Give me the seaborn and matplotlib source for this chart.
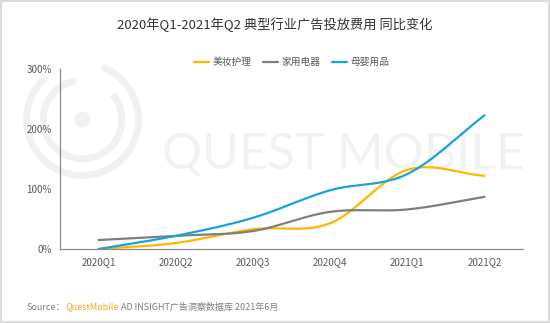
import numpy as np
import pandas as pd
import seaborn as sns
import matplotlib.pyplot as plt
from matplotlib.patches import Rectangle, Circle, Arc

quarters = ["2020Q1", "2020Q2", "2020Q3", "2020Q4", "2021Q1", "2021Q2"]
meizhuang = [0, 10, 33, 43, 132, 122]   # 美妆护理
jiadian = [15, 22, 30, 62, 66, 87]      # 家用电器
muying = [0, 22, 52, 98, 125, 223]      # 母婴用品
series_names = ["美妆护理", "家用电器", "母婴用品"]
colors = ["#FFB800", "#7F7F7F", "#18A3DC"]

sns.set_theme(style="white")
plt.rcParams['font.family'] = ['Noto Sans CJK SC', 'DejaVu Sans']


def smooth(y, n=40):
    # catmull-rom curve through the points, only for drawing
    y = np.asarray(y, dtype=float)
    p = np.concatenate([[2 * y[0] - y[1]], y, [2 * y[-1] - y[-2]]])
    xs, ys = [], []
    for i in range(len(y) - 1):
        t = np.linspace(0, 1, n, endpoint=False)
        p0, p1, p2, p3 = p[i], p[i + 1], p[i + 2], p[i + 3]
        v = 0.5 * ((2 * p1) + (-p0 + p2) * t + (2 * p0 - 5 * p1 + 4 * p2 - p3) * t ** 2
                   + (-p0 + 3 * p1 - 3 * p2 + p3) * t ** 3)
        xs.extend(i + t)
        ys.extend(v)
    xs.append(len(y) - 1)
    ys.append(y[-1])
    return np.array(xs), np.array(ys)


rows = []
for name, vals in zip(series_names, [meizhuang, jiadian, muying]):
    sx, sy = smooth(vals)
    rows.append(pd.DataFrame({"x": sx, "y": sy, "series": name}))
df = pd.concat(rows, ignore_index=True)

fig = plt.figure(figsize=(5.5, 3.23), dpi=100)
ax = fig.add_axes([0.109, 0.229, 0.842, 0.557])

# watermark
fig.text(0.295, 0.52, "QUEST MOBILE", fontsize=36, color="#f2f2f2",
         family="Lato", va="center", ha="left", zorder=0)
wm = fig.add_axes([0.04, 0.44, 0.22, 0.38], zorder=0)
wm.set_xlim(-1, 1)
wm.set_ylim(-1, 1)
wm.set_aspect("equal")
wm.axis("off")
wm.add_patch(Circle((0, 0), 0.12, color="#f1f1f1"))
wm.add_patch(Arc((0, 0), 1.3, 1.3, theta1=100, theta2=400, lw=5, color="#f1f1f1"))
wm.add_patch(Arc((0, 0), 1.85, 1.85, theta1=130, theta2=430, lw=5, color="#f1f1f1"))
ax.set_zorder(1)
ax.patch.set_alpha(0)

sns.lineplot(data=df, x="x", y="y", hue="series", palette=colors, ax=ax,
             linewidth=1.6, estimator=None, sort=False)

ax.set_xlim(-0.5, 5.5)
ax.set_ylim(0, 300)
ax.set_xticks(range(len(quarters)))
ax.set_xticklabels(quarters)
ax.set_yticks([0, 100, 200, 300])
ax.set_yticklabels(["0%", "100%", "200%", "300%"])
ax.tick_params(axis="both", labelsize=7, colors="#595959", length=0, pad=6)
ax.set_xlabel("")
ax.set_ylabel("")
for s in ["top", "right"]:
    ax.spines[s].set_visible(False)
for s in ["left", "bottom"]:
    ax.spines[s].set_color("#8c8c8c")
    ax.spines[s].set_linewidth(0.9)

leg = ax.legend(loc="center", bbox_to_anchor=(0.5, 1.04), ncol=3, frameon=False,
                fontsize=7, handlelength=1.6, handletextpad=0.3, columnspacing=1.2,
                borderpad=0)
for t in leg.get_texts():
    t.set_color("#595959")

fig.text(0.5, 0.925, "2020年Q1-2021年Q2 典型行业广告投放费用 同比变化", ha="center", va="center",
         fontsize=9.5, color="#333333")

# source line
fig.canvas.draw()
r = fig.canvas.get_renderer()
x0 = 27 / 550
y0 = 1 - 307 / 323
parts = [("Source：", "#7f7f7f"), ("QuestMobile", "#F5A623"), (" AD INSIGHT广告洞察数据库 2021年6月", "#7f7f7f")]
for txt, c in parts:
    t = fig.text(x0, y0, txt, fontsize=6.5, color=c, va="center", ha="left")
    bb = t.get_window_extent(renderer=r)
    x0 += bb.width / fig.bbox.width

fig.patches.append(Rectangle((0.002, 0.003), 0.996, 0.994, transform=fig.transFigure,
                             fill=False, edgecolor="#dcdcdc", linewidth=1.5))

fig.savefig("out.png", dpi=100)
